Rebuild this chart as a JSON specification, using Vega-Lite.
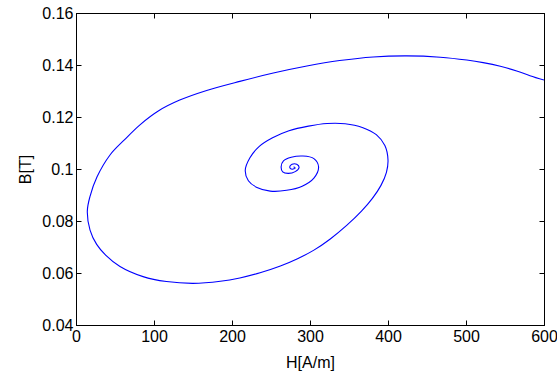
{
  "$schema": "https://vega.github.io/schema/vega-lite/v6.json",
  "width": 468,
  "height": 312,
  "autosize": {"type": "none"},
  "padding": {"left": 76, "top": 13, "right": 13, "bottom": 53},
  "background": "white",
  "config": {
    "view": {"stroke": "black", "strokeWidth": 1},
    "font": "Liberation Sans",
    "axis": {
      "domainColor": "black",
      "tickColor": "black",
      "tickSize": -5,
      "labelColor": "black",
      "titleColor": "black",
      "labelFont": "Liberation Sans",
      "titleFont": "Liberation Sans",
      "labelFontSize": 16,
      "titleFontSize": 16,
      "titleFontWeight": "normal",
      "grid": false
    }
  },
  "data": {
    "values": [
      {"i": 1, "H": 600, "B": 0.1342},
      {"i": 2, "H": 582, "B": 0.1359},
      {"i": 3, "H": 565, "B": 0.1377},
      {"i": 4, "H": 544, "B": 0.1395},
      {"i": 5, "H": 522, "B": 0.1409},
      {"i": 6, "H": 501, "B": 0.1419},
      {"i": 7, "H": 467, "B": 0.1430},
      {"i": 8, "H": 424, "B": 0.1435},
      {"i": 9, "H": 381, "B": 0.1431},
      {"i": 10, "H": 338, "B": 0.1417},
      {"i": 11, "H": 296, "B": 0.1396},
      {"i": 12, "H": 253, "B": 0.1369},
      {"i": 13, "H": 210, "B": 0.1337},
      {"i": 14, "H": 167.5, "B": 0.1302},
      {"i": 15, "H": 133, "B": 0.1265},
      {"i": 16, "H": 106, "B": 0.1224},
      {"i": 17, "H": 82, "B": 0.1170},
      {"i": 18, "H": 62, "B": 0.1112},
      {"i": 19, "H": 43.6, "B": 0.1054},
      {"i": 20, "H": 27, "B": 0.0970},
      {"i": 21, "H": 18, "B": 0.0895},
      {"i": 22, "H": 14.5, "B": 0.0838},
      {"i": 23, "H": 18, "B": 0.0765},
      {"i": 24, "H": 26.5, "B": 0.0710},
      {"i": 25, "H": 38, "B": 0.0669},
      {"i": 26, "H": 56.4, "B": 0.0625},
      {"i": 27, "H": 86, "B": 0.0586},
      {"i": 28, "H": 116, "B": 0.0567},
      {"i": 29, "H": 150, "B": 0.0560},
      {"i": 30, "H": 185, "B": 0.0568},
      {"i": 31, "H": 210, "B": 0.0581},
      {"i": 32, "H": 236, "B": 0.0601},
      {"i": 33, "H": 262, "B": 0.0627},
      {"i": 34, "H": 284, "B": 0.0655},
      {"i": 35, "H": 305, "B": 0.0688},
      {"i": 36, "H": 326, "B": 0.0731},
      {"i": 37, "H": 347, "B": 0.0783},
      {"i": 38, "H": 366, "B": 0.0838},
      {"i": 39, "H": 380, "B": 0.0887},
      {"i": 40, "H": 391, "B": 0.0937},
      {"i": 41, "H": 398, "B": 0.0987},
      {"i": 42, "H": 400, "B": 0.1035},
      {"i": 43, "H": 396, "B": 0.1090},
      {"i": 44, "H": 385, "B": 0.1132},
      {"i": 45, "H": 367, "B": 0.1160},
      {"i": 46, "H": 345, "B": 0.1174},
      {"i": 47, "H": 322, "B": 0.1175},
      {"i": 48, "H": 298, "B": 0.1165},
      {"i": 49, "H": 273, "B": 0.1147},
      {"i": 50, "H": 252, "B": 0.1120},
      {"i": 51, "H": 235, "B": 0.1087},
      {"i": 52, "H": 223, "B": 0.1043},
      {"i": 53, "H": 217, "B": 0.0995},
      {"i": 54, "H": 221, "B": 0.0955},
      {"i": 55, "H": 232, "B": 0.0929},
      {"i": 56, "H": 249, "B": 0.0915},
      {"i": 57, "H": 270, "B": 0.0918},
      {"i": 58, "H": 290, "B": 0.0934},
      {"i": 59, "H": 305, "B": 0.0965},
      {"i": 60, "H": 311, "B": 0.1008},
      {"i": 61, "H": 305, "B": 0.1040},
      {"i": 62, "H": 291, "B": 0.1050},
      {"i": 63, "H": 276, "B": 0.1045},
      {"i": 64, "H": 266, "B": 0.1031},
      {"i": 65, "H": 263, "B": 0.1009},
      {"i": 66, "H": 265, "B": 0.0989},
      {"i": 67, "H": 272, "B": 0.0983},
      {"i": 68, "H": 281, "B": 0.0990},
      {"i": 69, "H": 286, "B": 0.1006},
      {"i": 70, "H": 283, "B": 0.1018},
      {"i": 71, "H": 277, "B": 0.1018},
      {"i": 72, "H": 274, "B": 0.1007},
      {"i": 73, "H": 277, "B": 0.0999},
      {"i": 74, "H": 281, "B": 0.1004},
      {"i": 75, "H": 279, "B": 0.1009}
    ]
  },
  "layer": [
    {
      "mark": {"type": "line", "color": "#0000ff", "strokeWidth": 1.1, "interpolate": "catmull-rom", "clip": true},
      "encoding": {
        "order": {"field": "i", "type": "quantitative"},
        "x": {
          "field": "H", "type": "quantitative",
          "scale": {"domain": [0, 600], "nice": false, "zero": false},
          "axis": {"orient": "bottom", "values": [0, 100, 200, 300, 400, 500, 600], "title": "H[A/m]", "labelPadding": 8, "titlePadding": 10, "labelFlush": false}
        },
        "y": {
          "field": "B", "type": "quantitative",
          "scale": {"domain": [0.04, 0.16], "nice": false, "zero": false},
          "axis": {"orient": "left", "values": [0.04, 0.06, 0.08, 0.1, 0.12, 0.14, 0.16], "format": "~g", "title": "B[T]", "labelPadding": 8, "titlePadding": 8, "labelFlush": false}
        }
      }
    },
    {
      "mark": {"type": "line", "strokeOpacity": 0},
      "encoding": {
        "order": {"field": "i", "type": "quantitative"},
        "x": {
          "field": "H", "type": "quantitative",
          "scale": {"domain": [0, 600], "nice": false, "zero": false},
          "axis": {"orient": "top", "values": [0, 100, 200, 300, 400, 500, 600], "labels": false, "title": null}
        },
        "y": {
          "field": "B", "type": "quantitative",
          "scale": {"domain": [0.04, 0.16], "nice": false, "zero": false},
          "axis": {"orient": "right", "values": [0.04, 0.06, 0.08, 0.1, 0.12, 0.14, 0.16], "labels": false, "title": null}
        }
      }
    }
  ],
  "resolve": {
    "scale": {"x": "independent", "y": "independent"},
    "axis": {"x": "independent", "y": "independent"}
  }
}
